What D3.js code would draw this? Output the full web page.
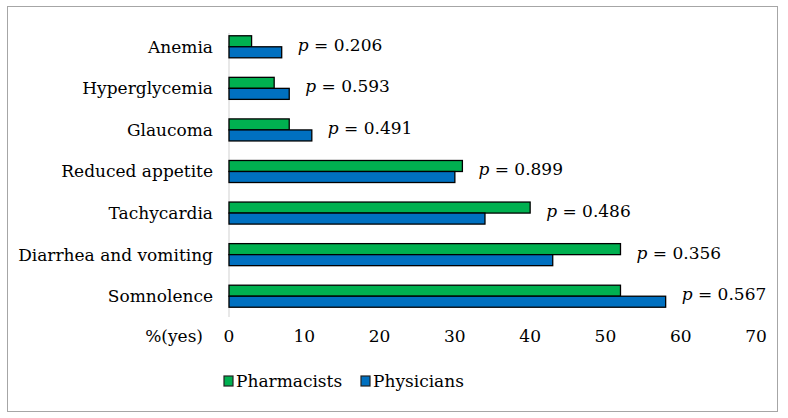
<!DOCTYPE html>
<html>
<head>
<meta charset="utf-8">
<script src="https://cdn.jsdelivr.net/npm/d3@7"></script>
<style>
  body { margin: 0; background: #fff; }
</style>
</head>
<body>
<svg width="788" height="418"></svg>
<script>
const categories = ["Anemia", "Hyperglycemia", "Glaucoma", "Reduced appetite",
  "Tachycardia", "Diarrhea and vomiting", "Somnolence"]
const pharmacists = [3, 6, 8, 31, 40, 52, 52]
const physicians = [7, 8, 11, 30, 34, 43, 58]
const pValues = ["0.206", "0.593", "0.491", "0.899", "0.486", "0.356", "0.567"]
const xTicks = [0, 10, 20, 30, 40, 50, 60, 70]
const seriesNames = ["Pharmacists", "Physicians"]
const colors = ["#00b050", "#0070c0"]

const FONT = "'DejaVu Serif', serif"
const SIZE = "17px"

const svg = d3.select("svg")
  .style("font-family", FONT)

// outer frame
svg.append("rect")
  .attr("x", 7.5).attr("y", 6.5)
  .attr("width", 770).attr("height", 405)
  .attr("fill", "none")
  .attr("stroke", "#a6a6a6")

const x = d3.scaleLinear().domain([0, 70]).range([229, 756])

const y = d3.scaleBand()
  .domain(categories)
  .range([26, 317])
  .paddingInner(0.47)
  .paddingOuter(0.235)

const sub = d3.scaleBand()
  .domain(seriesNames)
  .range([0, y.bandwidth()])

// vertical axis line
svg.append("line")
  .attr("x1", x(0)).attr("x2", x(0))
  .attr("y1", 33).attr("y2", 317)
  .attr("stroke", "#d9d9d9")
  .attr("stroke-width", 1.2)

// category labels
svg.append("g")
  .selectAll("text")
  .data(categories)
  .enter()
  .append("text")
  .attr("x", 213)
  .attr("y", d => y(d) + y.bandwidth() / 2)
  .attr("dy", "0.35em")
  .attr("text-anchor", "end")
  .style("font-size", SIZE)
  .text(d => d)

// x tick labels
svg.append("g")
  .selectAll("text")
  .data(xTicks)
  .enter()
  .append("text")
  .attr("x", d => x(d))
  .attr("y", 336)
  .attr("dy", "0.35em")
  .attr("text-anchor", "middle")
  .style("font-size", SIZE)
  .text(d => d)

svg.append("text")
  .attr("x", 203)
  .attr("y", 336)
  .attr("dy", "0.35em")
  .attr("text-anchor", "end")
  .style("font-size", SIZE)
  .text("%(yes)")

// bars
const rows = categories.map((c, i) => ({ cat: c, vals: [pharmacists[i], physicians[i]], p: pValues[i] }))

const groups = svg.append("g")
  .selectAll("g")
  .data(rows)
  .enter()
  .append("g")
  .attr("transform", d => "translate(0," + y(d.cat) + ")")

groups.selectAll("rect")
  .data(d => d.vals.map((v, k) => ({ v: v, k: k })))
  .enter()
  .append("rect")
  .attr("x", x(0))
  .attr("y", d => sub(seriesNames[d.k]))
  .attr("width", d => x(d.v) - x(0))
  .attr("height", sub.bandwidth())
  .attr("fill", d => colors[d.k])
  .attr("stroke", "#000")
  .attr("stroke-width", 1.3)

// p-value labels, placed after the longer bar
const pText = groups.append("text")
  .attr("x", d => x(d3.max(d.vals)) + 16)
  .attr("y", d => y.bandwidth() / 2 - 2)
  .attr("dy", "0.35em")
  .style("font-size", SIZE)

pText.append("tspan").style("font-style", "italic").text("p")
pText.append("tspan").text(d => " = " + d.p)

// legend
const legend = svg.append("g")
  .selectAll("g")
  .data(seriesNames)
  .enter()
  .append("g")
  .attr("transform", (d, i) => "translate(" + (224 + i * 137) + ",381)")

legend.append("rect")
  .attr("x", 0).attr("y", -5)
  .attr("width", 9).attr("height", 10)
  .attr("fill", (d, i) => colors[i])
  .attr("stroke", "#222")
  .attr("stroke-width", 1.2)

legend.append("text")
  .attr("x", 12)
  .attr("y", 0)
  .attr("dy", "0.35em")
  .style("font-size", SIZE)
  .text(d => d)
</script>
</body>
</html>
